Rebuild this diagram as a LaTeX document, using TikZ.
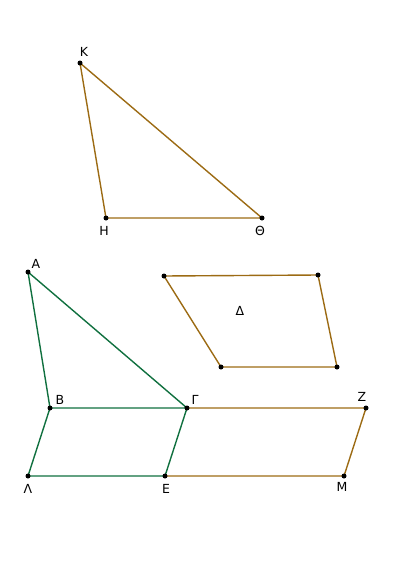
\documentclass[tikz,border=0pt]{standalone}
\usepackage{fontspec}
\setmainfont{DejaVu Sans}
\usepackage{xcolor}
\usepackage{tikz}
\definecolor{ochre}{HTML}{9C6B14}
\definecolor{pine}{HTML}{10703F}

\begin{document}
\begin{tikzpicture}[x=1pt,y=-1pt,font=\fontsize{12.5}{14}\selectfont,
  edge/.style={line width=1.4pt},
  pt/.style={fill=black}]
\useasboundingbox (0,0) rectangle (401,581);
% triangle K H Theta
\coordinate (K) at (80,63);
\coordinate (H) at (106,218);
\coordinate (Th) at (262,218);
% triangle A B Gamma and the parallelograms
\coordinate (A) at (28,272);
\coordinate (B) at (50,408);
\coordinate (G) at (187,408);
\coordinate (L) at (28,476);
\coordinate (E) at (165,476);
\coordinate (Z) at (366,408);
\coordinate (M) at (344,476);
% parallelogram Delta
\coordinate (D1) at (164,276);
\coordinate (D2) at (318,275);
\coordinate (D3) at (337,367);
\coordinate (D4) at (221,367);
\draw[ochre,edge] (K)--(H)--(Th)--cycle;
\draw[ochre,edge] (D1)--(D2)--(D3)--(D4)--cycle;
\draw[ochre,edge] (G)--(Z)--(M)--(E);
\draw[pine,edge] (A)--(B)--(G)--cycle;
\draw[pine,edge] (B)--(L)--(E)--(G);
\node (lD) at (240,311) {Δ};
\fill[pt] (K) circle(2.5) node[above,xshift=4pt,yshift=3pt] (lK) {Κ};
\fill[pt] (H) circle(2.5) node[below,xshift=-2pt,yshift=-5pt] (lH) {Η};
\fill[pt] (Th) circle(2.5) node[below,xshift=-2pt,yshift=-5pt] (lTh) {Θ};
\fill[pt] (A) circle(2.5) node[above right,yshift=0pt] (lA) {Α};
\fill[pt] (B) circle(2.5) node[above right,xshift=2pt,yshift=0pt] (lB) {Β};
\fill[pt] (G) circle(2.5) node[above right,xshift=1pt,yshift=0pt] (lG) {Γ};
\fill[pt] (Z) circle(2.5) node[above,xshift=-4pt,yshift=3pt] (lZ) {Ζ};
\fill[pt] (L) circle(2.5) node[below,yshift=-5pt] (lL) {Λ};
\fill[pt] (E) circle(2.5) node[below,xshift=1pt,yshift=-5pt] (lE) {Ε};
\fill[pt] (M) circle(2.5) node[below,xshift=-2pt,yshift=-3pt] (lM) {Μ};
\fill[pt] (D1) circle(2.5);
\fill[pt] (D2) circle(2.5);
\fill[pt] (D3) circle(2.5);
\fill[pt] (D4) circle(2.5);
\end{tikzpicture}
\end{document}
